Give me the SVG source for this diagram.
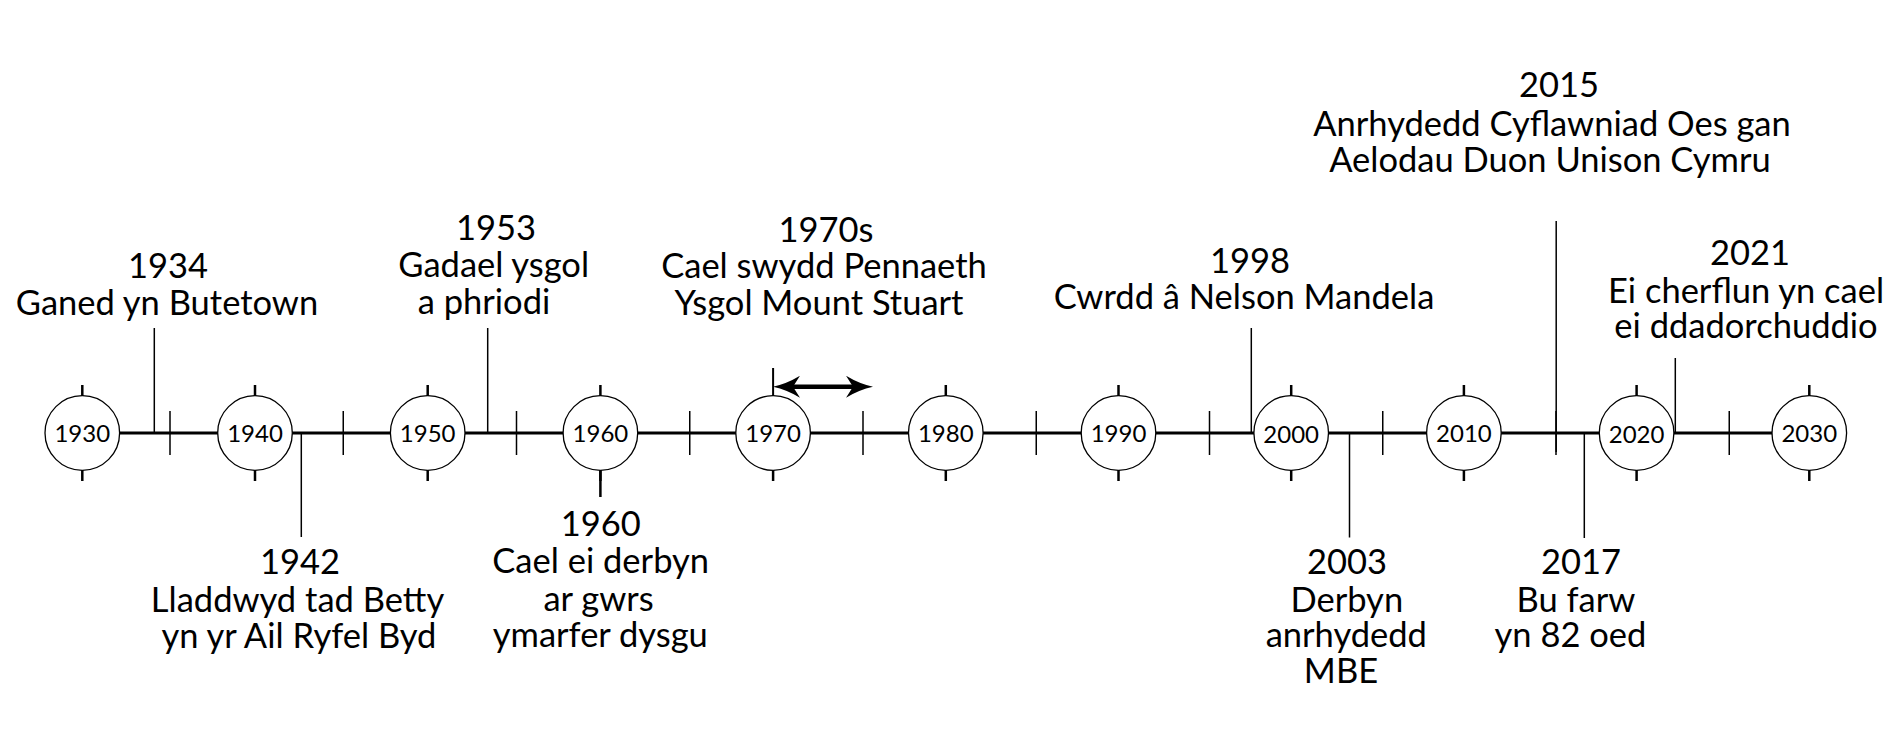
<svg xmlns="http://www.w3.org/2000/svg" width="1890" height="747" viewBox="0 0 1890 747">
<style>
.t{font-family:Lato,"Open Sans","Liberation Sans",sans-serif;font-size:34.5px;font-weight:400;fill:#000;text-anchor:middle}
.y{font-family:Lato,"Open Sans","Liberation Sans",sans-serif;font-size:24px;font-weight:400;fill:#000;text-anchor:middle}
.c{fill:#fff;stroke:#000;stroke-width:1.3}
.axis{stroke:#000;stroke-width:2.8;fill:none}
.mt{stroke:#000;stroke-width:1.5}
.ct{stroke:#000;stroke-width:2.5}
.cn{stroke:#000;stroke-width:1.5;fill:none}
.arr{stroke:#000;stroke-width:4.5;fill:none}
</style>
<defs>
<marker id="ah" viewBox="0 0 27 22" refX="7" refY="11" markerWidth="27" markerHeight="22" markerUnits="userSpaceOnUse" orient="auto-start-reverse">
<path d="M0,0 Q13,8 27,11 Q13,14 0,22 L7,11 Z" fill="#000"/>
</marker>
</defs>
<rect width="1890" height="747" fill="#fff"/>
<g id="axis">
<line class="axis" x1="82.3" y1="433" x2="1809.3" y2="433"/>
<g id="midticks">
<line class="mt" x1="170" y1="411" x2="170" y2="455"/>
<line class="mt" x1="343.25" y1="411" x2="343.25" y2="455"/>
<line class="mt" x1="516.5" y1="411" x2="516.5" y2="455"/>
<line class="mt" x1="689.75" y1="411" x2="689.75" y2="455"/>
<line class="mt" x1="863" y1="411" x2="863" y2="455"/>
<line class="mt" x1="1036.25" y1="411" x2="1036.25" y2="455"/>
<line class="mt" x1="1209.5" y1="411" x2="1209.5" y2="455"/>
<line class="mt" x1="1382.75" y1="411" x2="1382.75" y2="455"/>
<line class="mt" x1="1556" y1="411" x2="1556" y2="455"/>
<line class="mt" x1="1729.25" y1="411" x2="1729.25" y2="455"/>
</g>
</g>
<g id="connectors">
<line class="cn" x1="154.3" y1="328" x2="154.3" y2="433"/>
<line class="cn" x1="301.3" y1="433" x2="301.3" y2="537"/>
<line class="cn" x1="487.7" y1="328" x2="487.7" y2="433"/>
<line class="ct" x1="600.4" y1="470" x2="600.4" y2="497"/>
<line class="ct" x1="773.1" y1="368" x2="773.1" y2="396" style="stroke-width:2"/>
<line class="arr" x1="793" y1="386.7" x2="853" y2="386.7" marker-start="url(#ah)" marker-end="url(#ah)"/>
<line class="cn" x1="1251.3" y1="328" x2="1251.3" y2="433"/>
<line class="cn" x1="1349.5" y1="433" x2="1349.5" y2="537.5"/>
<line class="cn" x1="1556.2" y1="221" x2="1556.2" y2="452"/>
<line class="cn" x1="1584.3" y1="433" x2="1584.3" y2="538"/>
<line class="cn" x1="1675.3" y1="358" x2="1675.3" y2="433"/>
</g>
<g id="c1930"><line class="ct" x1="82.3" y1="385" x2="82.3" y2="481"/><circle class="c" cx="82.3" cy="433" r="37.3"/><text class="y" x="82.3" y="441.8">1930</text></g>
<g id="c1940"><line class="ct" x1="255" y1="385" x2="255" y2="481"/><circle class="c" cx="255" cy="433" r="37.3"/><text class="y" x="255" y="441.8">1940</text></g>
<g id="c1950"><line class="ct" x1="427.7" y1="385" x2="427.7" y2="481"/><circle class="c" cx="427.7" cy="433" r="37.3"/><text class="y" x="427.7" y="441.8">1950</text></g>
<g id="c1960"><line class="ct" x1="600.4" y1="385" x2="600.4" y2="481"/><circle class="c" cx="600.4" cy="433" r="37.3"/><text class="y" x="600.4" y="441.8">1960</text></g>
<g id="c1970"><circle class="c" cx="773.1" cy="433" r="37.3"/><line class="ct" x1="773.1" y1="470" x2="773.1" y2="481"/><text class="y" x="773.1" y="441.8">1970</text></g>
<g id="c1980"><line class="ct" x1="945.8" y1="385" x2="945.8" y2="481"/><circle class="c" cx="945.8" cy="433" r="37.3"/><text class="y" x="945.8" y="441.8">1980</text></g>
<g id="c1990"><line class="ct" x1="1118.5" y1="385" x2="1118.5" y2="481"/><circle class="c" cx="1118.5" cy="433" r="37.3"/><text class="y" x="1118.5" y="441.8">1990</text></g>
<g id="c2000"><line class="ct" x1="1291.2" y1="385" x2="1291.2" y2="481"/><circle class="c" cx="1291.2" cy="433" r="37.3"/><text class="y" x="1291.2" y="442.8">2000</text></g>
<g id="c2010"><line class="ct" x1="1463.9" y1="385" x2="1463.9" y2="481"/><circle class="c" cx="1463.9" cy="433" r="37.3"/><text class="y" x="1463.9" y="441.8">2010</text></g>
<g id="c2020"><line class="ct" x1="1636.6" y1="385" x2="1636.6" y2="481"/><circle class="c" cx="1636.6" cy="433" r="37.3"/><text class="y" x="1636.6" y="442.8">2020</text></g>
<g id="c2030"><line class="ct" x1="1809.3" y1="385" x2="1809.3" y2="481"/><circle class="c" cx="1809.3" cy="433" r="37.3"/><text class="y" x="1809.3" y="441.8">2030</text></g>
<g id="e1934"><text class="t"><tspan x="168" y="278.3">1934</tspan><tspan x="167" y="315">Ganed yn Butetown</tspan></text></g>
<g id="e1942"><text class="t"><tspan x="300" y="574.3">1942</tspan><tspan x="297.5" y="611.7">Lladdwyd tad Betty</tspan><tspan x="299" y="648.3">yn yr Ail Ryfel Byd</tspan></text></g>
<g id="e1953"><text class="t"><tspan x="496" y="240">1953</tspan><tspan x="493.7" y="277.3">Gadael ysgol</tspan><tspan x="484" y="314">a phriodi</tspan></text></g>
<g id="e1960"><text class="t"><tspan x="600.8" y="535.5">1960</tspan><tspan x="600.7" y="573.3">Cael ei derbyn</tspan><tspan x="598.5" y="610.5">ar gwrs</tspan><tspan x="600.3" y="647">ymarfer dysgu</tspan></text></g>
<g id="e1970s"><text class="t"><tspan x="826" y="241.7">1970s</tspan><tspan x="824" y="278.3">Cael swydd Pennaeth</tspan><tspan x="819" y="315">Ysgol Mount Stuart</tspan></text></g>
<g id="e1998"><text class="t"><tspan x="1250" y="272.7">1998</tspan><tspan x="1244" y="309.3">Cwrdd â Nelson Mandela</tspan></text></g>
<g id="e2003"><text class="t"><tspan x="1347" y="574">2003</tspan><tspan x="1346.8" y="611.7">Derbyn</tspan><tspan x="1346.3" y="646.7">anrhydedd</tspan><tspan x="1341" y="683.3">MBE</tspan></text></g>
<g id="e2015"><text class="t"><tspan x="1559" y="96.7">2015</tspan><tspan x="1552" y="136">Anrhydedd Cyflawniad Oes gan</tspan><tspan x="1550" y="171.7">Aelodau Duon Unison Cymru</tspan></text></g>
<g id="e2017"><text class="t"><tspan x="1581" y="574">2017</tspan><tspan x="1576" y="611.7">Bu farw</tspan><tspan x="1570.5" y="647">yn 82 oed</tspan></text></g>
<g id="e2021"><text class="t"><tspan x="1750" y="265">2021</tspan><tspan x="1746" y="303.3">Ei cherflun yn cael</tspan><tspan x="1746" y="338.3">ei ddadorchuddio</tspan></text></g>
</svg>
